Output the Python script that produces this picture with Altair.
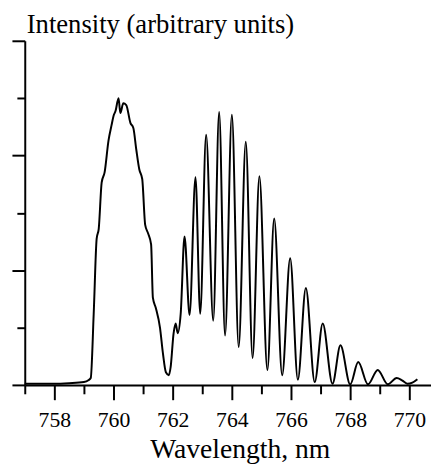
import altair as alt
import pandas as pd

wavelength = [
    757.0, 757.5, 758.0, 758.5, 759.0, 759.15, 759.23,
    759.33, 759.43, 759.5, 759.6, 759.7, 759.83, 759.93, 760.0, 760.07,
    760.17, 760.23, 760.33, 760.43, 760.57, 760.67, 760.77, 760.87, 760.97,
    761.07, 761.17, 761.27, 761.33, 761.43, 761.57, 761.67, 761.77, 761.87,
    761.93, 762.03, 762.1, 762.17, 762.27, 762.4, 762.57, 762.77, 762.93,
    763.13, 763.37, 763.57, 763.77, 764.0, 764.23, 764.47, 764.7, 764.93,
    765.2, 765.43, 765.7, 765.97, 766.23, 766.5, 766.8, 767.07, 767.4,
    767.67, 768.0, 768.27, 768.6, 768.93, 769.27, 769.57, 769.75, 769.93,
    770.1, 770.27,
]
intensity = [
    0.02, 0.02, 0.02, 0.03, 0.05, 0.08, 0.12,
    1.24, 2.55, 2.72, 3.53, 3.71, 4.26, 4.52, 4.69, 4.78,
    5.0, 4.74, 4.91, 4.88, 4.57, 4.48, 4.10, 3.76, 3.59,
    2.79, 2.64, 2.45, 1.52, 1.34, 1.0, 0.55, 0.22, 0.17,
    0.31, 0.90, 1.07, 0.90, 1.24, 2.59, 1.22, 3.62, 1.24,
    4.36, 1.12, 4.76, 0.86, 4.71, 0.66, 4.24, 0.47, 3.64,
    0.26, 2.90, 0.17, 2.21, 0.09, 1.69, 0.05, 1.07, 0.02,
    0.69, 0.01, 0.40, 0.01, 0.26, 0.01, 0.12, 0.08, 0.02,
    0.04, 0.10,
]
x_ticks = list(range(757, 771))
y_ticks = [0, 1, 2, 3, 4, 5, 6]

df = pd.DataFrame({"wl": wavelength, "I": intensity})
FONT = "Liberation Serif"

chart = alt.Chart(df).mark_line(
    color="black", strokeWidth=2, interpolate="monotone"
).encode(
    x=alt.X(
        "wl:Q",
        scale=alt.Scale(domain=[757, 770.73], nice=False, zero=False),
        axis=alt.Axis(
            values=x_ticks,
            labelExpr="datum.value % 2 === 0 ? datum.label : ''",
            tickSize={"condition": {"test": "datum.value % 2 === 0", "value": 15}, "value": 9},
            tickColor="black",
            tickWidth=2,
            domainColor="black",
            domainWidth=2,
            labelFont=FONT,
            labelFontSize=22,
            labelColor="black",
            labelPadding=10,
            labelFlush=False,
            grid=False,
            title="Wavelength, nm",
            titleFont=FONT,
            titleFontSize=28,
            titleFontWeight="normal",
            titleColor="black",
            titlePadding=6,
            titleX=218,
        ),
    ),
    y=alt.Y(
        "I:Q",
        scale=alt.Scale(domain=[0, 6], nice=False),
        axis=alt.Axis(
            values=y_ticks,
            labels=False,
            tickSize={"condition": {"test": "datum.value % 2 === 0", "value": 13}, "value": 8},
            tickColor="black",
            tickWidth=2,
            domainColor="black",
            domainWidth=2,
            grid=False,
            title=None,
        ),
    ),
).properties(
    width=412,
    height=349,
    title=alt.TitleParams(
        "Intensity (arbitrary units)",
        anchor="start",
        frame="group",
        font=FONT,
        fontSize=27,
        fontWeight="normal",
        color="black",
        offset=1,
        dx=2,
    ),
    padding={"left": 3, "top": 0, "right": 0, "bottom": 0},
).configure_view(stroke=None)

chart.save("out.html", embed_options={"renderer": "svg", "actions": False})
